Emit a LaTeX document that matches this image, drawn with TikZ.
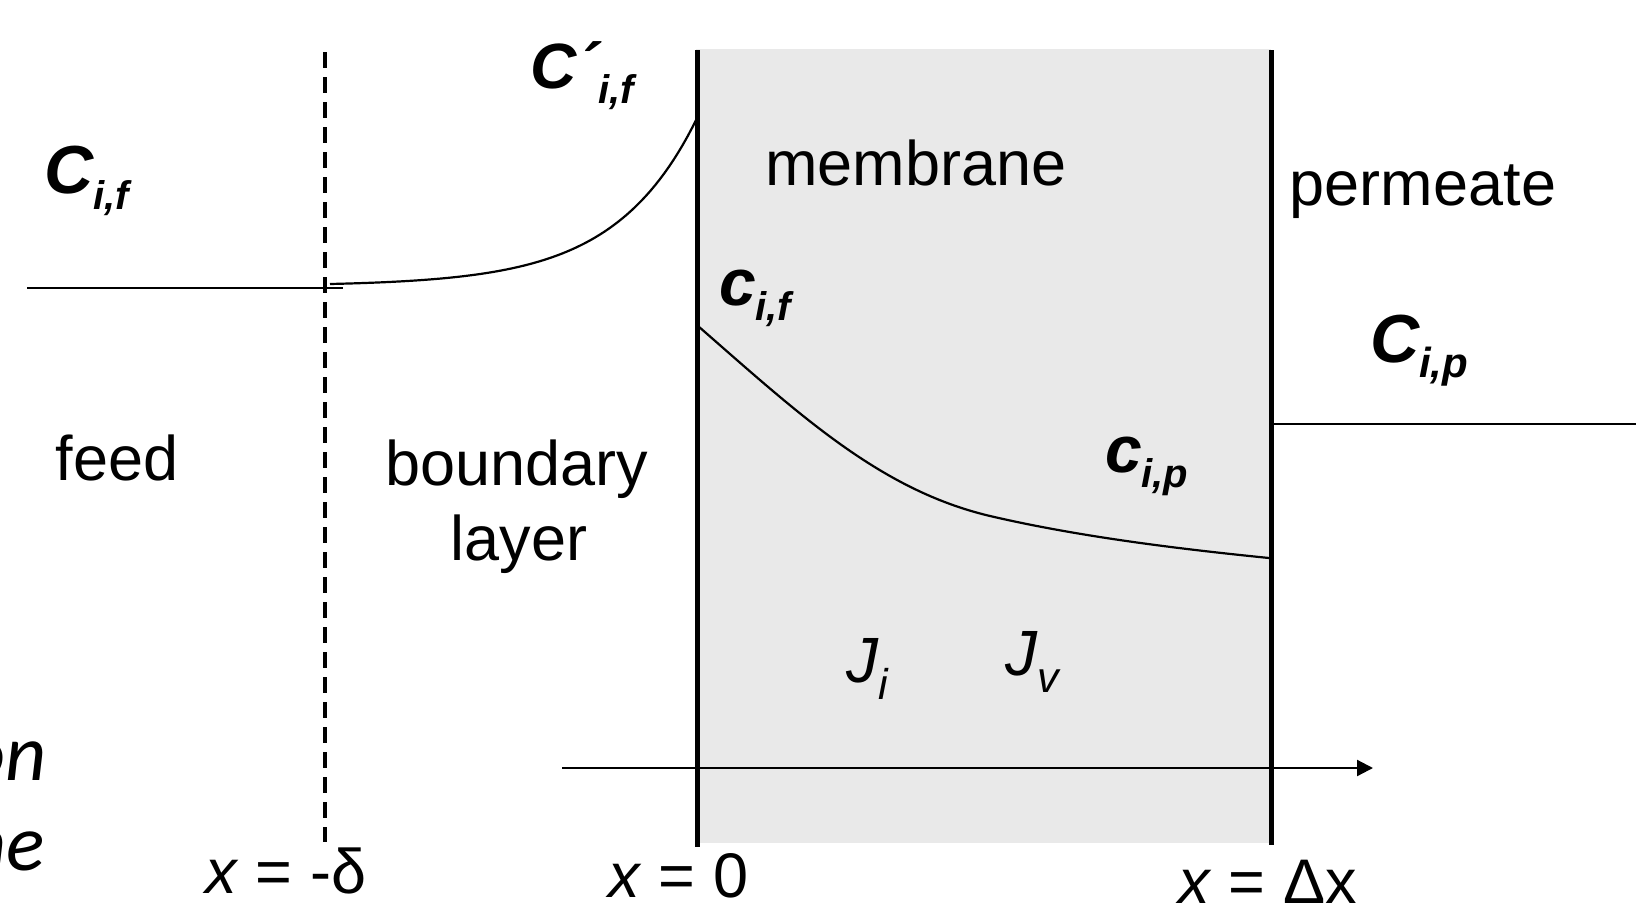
\documentclass[tikz,border=0pt]{standalone}
\usepackage{fontspec}
\setmainfont{Liberation Sans}
\newfontfamily\calibfont{Carlito}
\usetikzlibrary{arrows.meta}
\definecolor{memgray}{RGB}{233,233,233}
\newcommand{\fsz}[1]{\fontsize{#1}{#1}\selectfont}
% size, main, sub, subsize, drop
\newcommand{\conc}[5]{{\fsz{#1}\bfseries\itshape #2\raisebox{-#5pt}{\fsz{#4}#3}}}
\newcommand{\flux}[2]{{\fsz{64}\itshape J\raisebox{-17pt}{\fsz{43}#1}}}
\tikzset{
  txt/.style={inner sep=0pt, outer sep=0pt, anchor=base},
  lab/.style={inner sep=0pt, outer sep=0pt, anchor=base west},
  thinline/.style={line width=2.2pt, black},
  wall/.style={line width=5pt, black},
}
\begin{document}
\begin{tikzpicture}[x=1pt, y=-1pt]
\useasboundingbox (0,0) rectangle (1636,910);
\begin{scope}
\clip (0,0) rectangle (1636,910);
% membrane body
\fill[memgray] (696,49) rectangle (1271,843);
% feed level
\coordinate (feedL) at (27,288);
\coordinate (feedR) at (343,288);
\draw[thinline] (feedL) -- (feedR);
% boundary layer profile
\draw[thinline] plot[domain=330:697, samples=80, variable=\t] ({\t},{284-1.91*(exp((\t-330)/82)-1)});
% membrane profile
\coordinate (mA) at (698,326);
\coordinate (mB) at (990,516);
\coordinate (mC) at (1269,558);
\draw[thinline] (mA) .. controls (800,415) and (880,490) .. (mB)
                     .. controls (1080,537) and (1180,549) .. (mC);
% permeate level
\coordinate (permL) at (1271,424);
\coordinate (permR) at (1636,424);
\draw[thinline] (permL) -- (permR);
% x axis
\coordinate (axL) at (562,768);
\coordinate (axR) at (1373,768);
\draw[thinline, -{Triangle[length=16pt, width=16pt]}] (axL) -- (axR);
% dashed boundary
\coordinate (dT) at (325,52);
\coordinate (dB) at (325,842);
\draw[line width=3.4pt, dash pattern=on 16pt off 9pt] (dT) -- (dB);
% membrane walls
\coordinate (w1T) at (697,50);
\coordinate (w1B) at (697,847);
\coordinate (w2T) at (1271,50);
\coordinate (w2B) at (1271,845);
\draw[wall] (w1T) -- (w1B);
\draw[wall] (w2T) -- (w2B);
% region labels
\node[txt, font=\fsz{63}] (feed) at (117,480) {feed};
\node[txt, font=\fsz{63}] (bl1) at (517,485) {boundary};
\node[txt, font=\fsz{63}] (bl2) at (519,560) {layer};
\node[txt, font=\fsz{63}] (memb) at (916,185) {membrane};
\node[txt, font=\fsz{63}] (perm) at (1423,205) {permeate};
% concentrations
\node[lab] (Cif) at (44,193) {\conc{68}{C}{i,f}{40}{16}};
\node[lab] (Cpif) at (530,88) {\conc{64}{C\kern1pt´}{i,f}{40}{15}};
\node[lab] (cif) at (719,305) {\conc{66}{c}{i,f}{40}{15}};
\node[lab] (Cip) at (1370,362) {\conc{68}{C}{i,p}{42}{15}};
\node[lab] (cip) at (1105,472) {\conc{66}{c}{i,p}{40}{15}};
% fluxes
\node[lab] (Ji) at (846,682) {\flux{i}{}};
\node[lab] (Jv) at (1005,675) {\flux{v}{}};
% positions
\node[lab, font=\fsz{63}] (xd) at (205,893) {\textit{x} = -δ};
\node[lab, font=\fsz{63}] (x0) at (608,897) {\textit{x} = 0};
\node[lab, font=\fsz{63}] (xD) at (1178,903) {\textit{x} = Δx};
% cut-off words at left edge
\node[inner sep=0pt, anchor=base east, font=\calibfont\itshape\fsz{80}] (on) at (47,780) {on};
\node[inner sep=0pt, anchor=base east, font=\calibfont\itshape\fsz{80}] (ne) at (45,870) {ne};
\end{scope}
\end{tikzpicture}
\end{document}
